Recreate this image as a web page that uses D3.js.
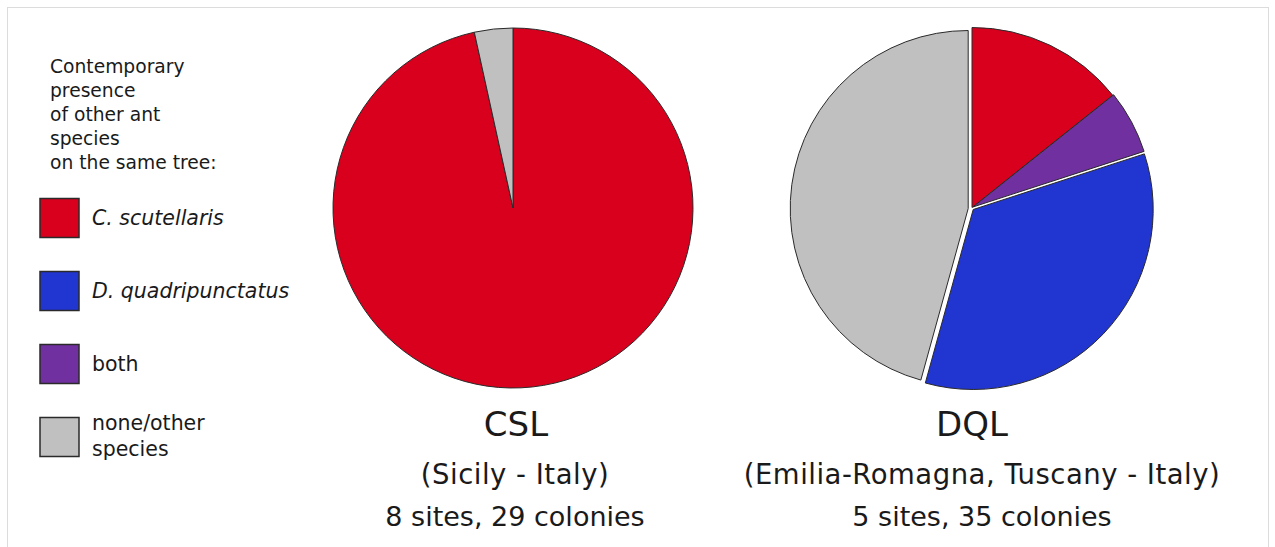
<!DOCTYPE html>
<html>
<head>
<meta charset="utf-8">
<script src="https://cdn.jsdelivr.net/npm/d3@7/dist/d3.min.js"></script>
<style>
  html, body { margin: 0; padding: 0; background: #fff; }
  svg { display: block; }
  text { font-family: "DejaVu Sans", Verdana, sans-serif; fill: #1a1a1a; }
</style>
</head>
<body>
<svg id="chart" width="1275" height="547"></svg>
<script>
// Categories in legend order
const categories = ["C. scutellaris", "D. quadripunctatus", "both", "none/other species"];
const categoryKeys = ["cs", "dq", "both", "none"];
const categoryColors = ["#d9001e", "#2135d0", "#7030a0", "#c0c0c0"];
const italicLabels = [true, true, false, false];

// Clockwise drawing order of slices, starting at 12 o'clock
const sliceOrder = ["cs", "both", "dq", "none"];

// Colony counts per category (legend order)
const cslCounts = [28, 0, 0, 1];
const dqlCounts = [5, 12, 2, 16];

const groups = ["CSL", "DQL"];
const groupRegions = ["(Sicily - Italy)", "(Emilia-Romagna, Tuscany - Italy)"];
const groupSizes = ["8 sites, 29 colonies", "5 sites, 35 colonies"];

const legendTitle = ["Contemporary", "presence", "of other ant", "species", "on the same tree:"];

const svg = d3.select("#chart");

// light frame around the figure
svg.append("rect")
  .attr("x", 7.5).attr("y", 7.5)
  .attr("width", 1261).attr("height", 600)
  .attr("fill", "none").attr("stroke", "#dcdcdc").attr("stroke-width", 1);

const color = d3.scaleOrdinal().domain(categoryKeys).range(categoryColors);

// ---- pies ----
const pieLayouts = [
  { cx: 513, cy: 208, r: 180, explode: {} },
  { cx: 972, cy: 207.5, r: 180,
    explode: { none: { dx: -3.8, dy: 1, dr: -2 }, dq: { dx: 1.2, dy: 2, dr: 0 }, both: { dx: 0.9, dy: -0.5, dr: 0 } } }
];
const countsByGroup = [cslCounts, dqlCounts];

const pie = d3.pie()
  .sort(null)
  .value(d => d.value);

groups.forEach((g, gi) => {
  const lay = pieLayouts[gi];
  const counts = countsByGroup[gi];
  const rows = sliceOrder.map(k => ({ key: k, value: counts[categoryKeys.indexOf(k)] }))
    .filter(d => d.value > 0);
  const arcsData = pie(rows);

  const gPie = svg.append("g").attr("transform", `translate(${lay.cx},${lay.cy})`);
  gPie.selectAll("path")
    .data(arcsData)
    .join("path")
    .attr("transform", d => {
      const e = lay.explode[d.data.key] || { dx: 0, dy: 0 };
      return `translate(${e.dx},${e.dy})`;
    })
    .attr("d", d => {
      const e = lay.explode[d.data.key] || { dr: 0 };
      return d3.arc().innerRadius(0).outerRadius(lay.r + (e.dr || 0))(d);
    })
    .attr("fill", d => color(d.data.key))
    .attr("stroke", "#2a2a2a")
    .attr("stroke-width", 1)
    .attr("stroke-linejoin", "round");

  // captions under each pie
  const capX = gi === 0 ? [516, 515, 515] : [972, 982, 982];
  svg.append("text")
    .attr("x", capX[0]).attr("y", 436)
    .attr("text-anchor", "middle")
    .style("font-size", "34px")
    .text(g);
  svg.append("text")
    .attr("x", capX[1]).attr("y", 484)
    .attr("text-anchor", "middle")
    .style("font-size", "27.5px")
    .style("letter-spacing", "0.5px")
    .text(groupRegions[gi]);
  svg.append("text")
    .attr("x", capX[2]).attr("y", 526)
    .attr("text-anchor", "middle")
    .style("font-size", "27px")
    .text(groupSizes[gi]);
});

// ---- legend ----
const legend = svg.append("g");
legend.selectAll("text.title")
  .data(legendTitle)
  .join("text")
  .attr("class", "title")
  .attr("x", 50)
  .attr("y", (d, i) => 73 + i * 24)
  .style("font-size", "18.7px")
  .text(d => d);

const itemY = d3.scalePoint().domain(categoryKeys).range([218, 437]);
const item = legend.selectAll("g.item")
  .data(categoryKeys)
  .join("g")
  .attr("class", "item")
  .attr("transform", d => `translate(0,${itemY(d)})`);

item.append("rect")
  .attr("x", 40).attr("y", -19.5)
  .attr("width", 39).attr("height", 39)
  .attr("fill", d => color(d))
  .attr("stroke", "#2a2a2a")
  .attr("stroke-width", 1.5);

item.each(function(d, i) {
  const t = d3.select(this).append("text")
    .attr("x", 92)
    .style("font-size", "20.5px")
    .style("font-style", italicLabels[i] ? "italic" : "normal");
  const label = categories[i];
  if (d === "none") {
    const parts = ["none/other", "species"];
    parts.forEach((p, j) => {
      t.append("tspan").attr("x", 92).attr("y", j === 0 ? -7 : 19).text(p);
    });
  } else {
    t.attr("y", 7).text(label);
  }
});
</script>
</body>
</html>
